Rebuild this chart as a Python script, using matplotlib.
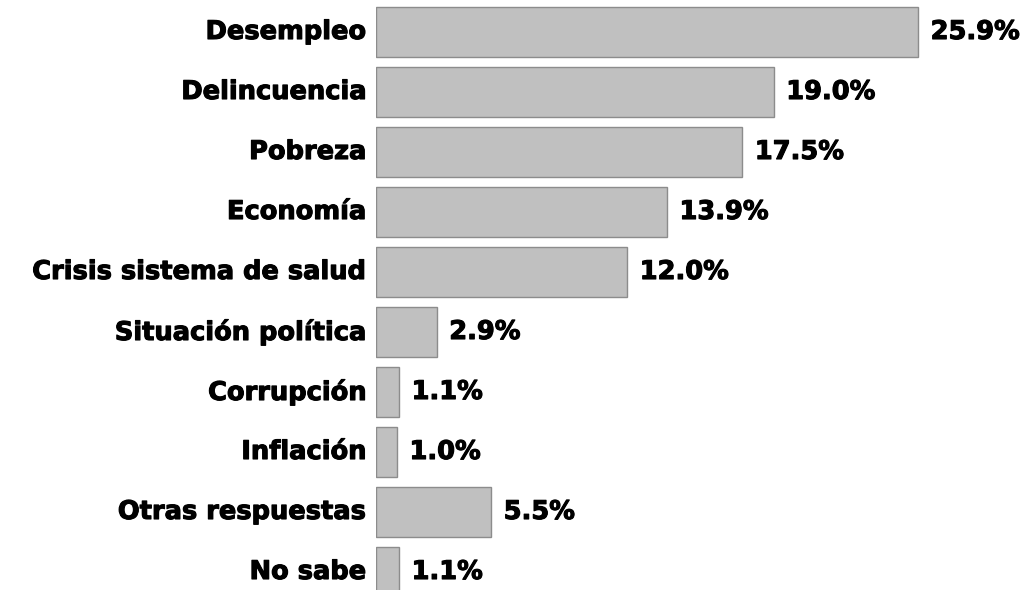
import matplotlib.pyplot as plt
import matplotlib.patheffects as pe

categorias = ['Desempleo', 'Delincuencia', 'Pobreza', 'Economía', 'Crisis sistema de salud',
              'Situación política', 'Corrupción', 'Inflación', 'Otras respuestas', 'No sabe']
valores = [25.9, 19.0, 17.5, 13.9, 12.0, 2.9, 1.1, 1.0, 5.5, 1.1]

fig = plt.figure(figsize=(10.26, 5.90), dpi=100)
ax = fig.add_axes([376 / 1026, 0, 650 / 1026, 1])

y = list(range(len(categorias)))
ax.barh(y, valores, height=0.817, color='#c0c0c0', edgecolor='#8c8c8c', linewidth=1)

ax.set_xlim(0, 650 / 20.93)
ax.set_ylim((590 - 32) / 60, -32 / 60)
ax.axis('off')

# letra gruesa: DejaVu bold con un trazo extra
grueso = [pe.withStroke(linewidth=0.8, foreground='black')]
fuente = dict(family='DejaVu Sans', weight='bold', fontsize=18.5, color='black',
              va='center', path_effects=grueso)
for i, (cat, v) in enumerate(zip(categorias, valores)):
    ax.text(-0.45, i, cat, ha='right', **fuente)
    ax.text(v + 0.6, i, f'{v:.1f}%', ha='left', **fuente)

fig.savefig('out.png', dpi=100)
